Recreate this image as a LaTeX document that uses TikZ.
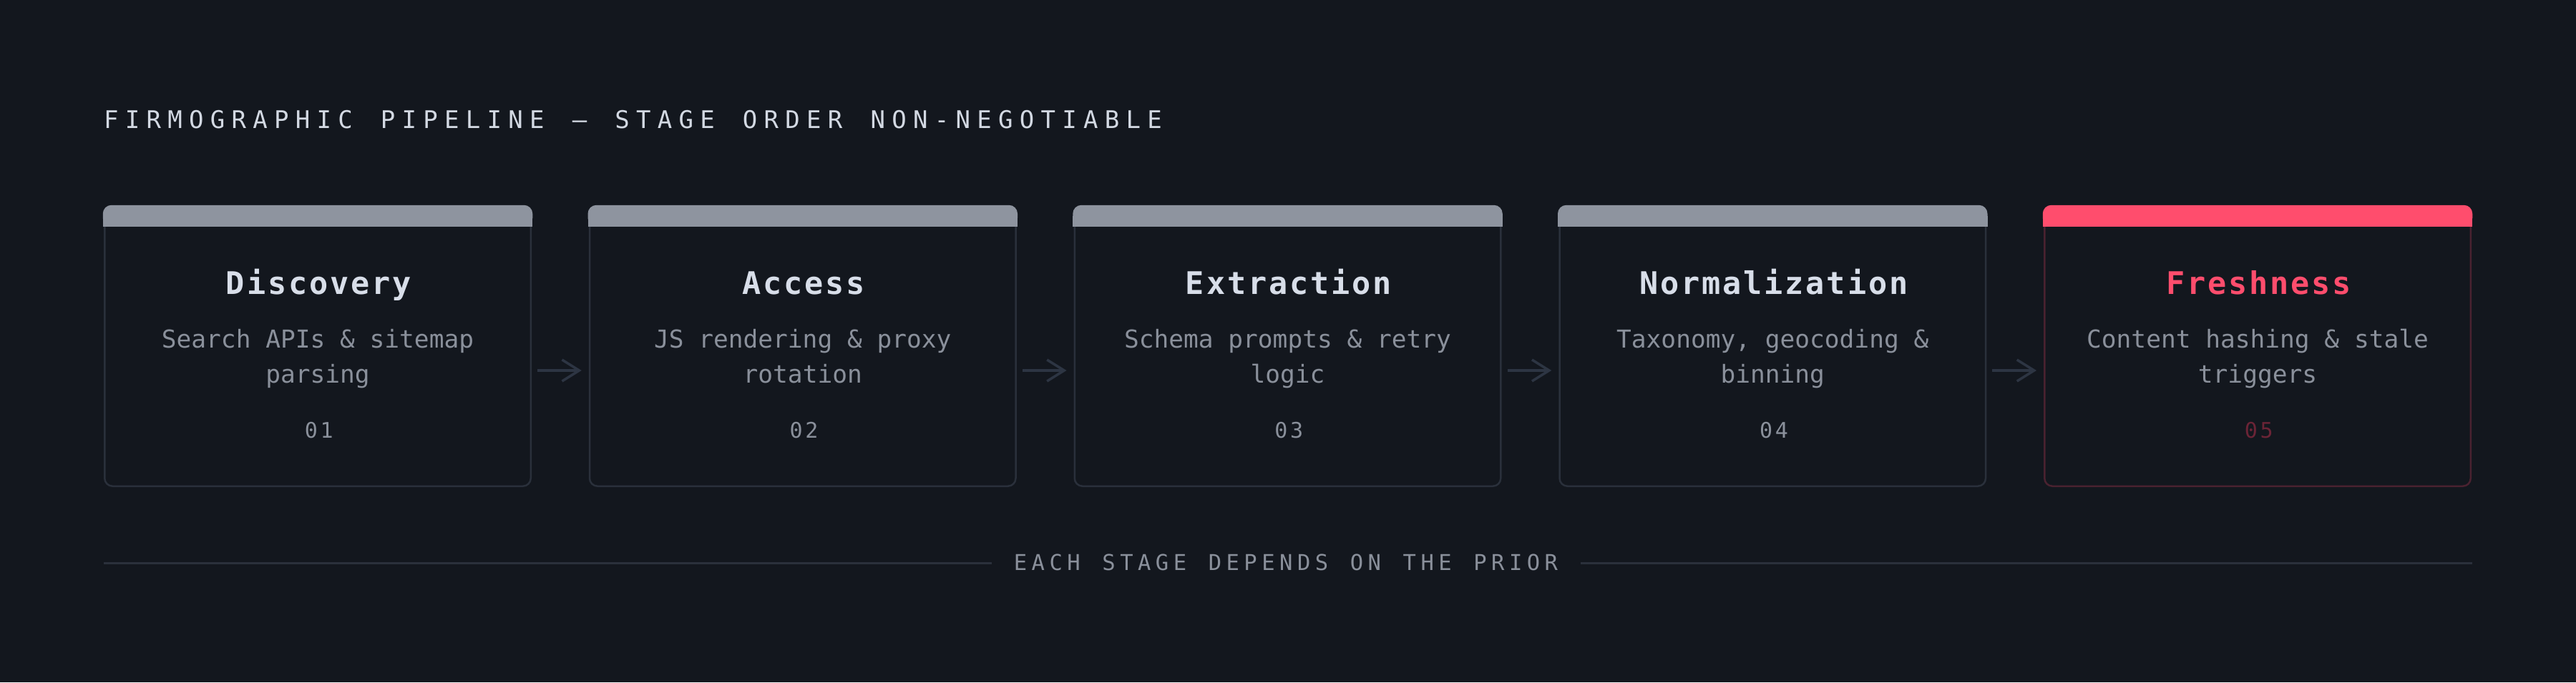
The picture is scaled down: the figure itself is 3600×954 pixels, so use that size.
\documentclass[tikz,border=0pt]{standalone}
\usepackage{fontspec}
\usetikzlibrary{arrows.meta,calc}
\newfontfamily\monoR{DejaVu Sans Mono}
\newfontfamily\monoT[LetterSpace=27.3,WordSpace={1.314,0,0}]{DejaVu Sans Mono}
\newfontfamily\monoF[LetterSpace=21.3,WordSpace={1.23,0,0}]{DejaVu Sans Mono}
\newfontfamily\monoN[LetterSpace=12]{DejaVu Sans Mono}
\newfontfamily\monoB[LetterSpace=6.7]{DejaVu Sans Mono}
\definecolor{bg}{HTML}{13171E}
\definecolor{ink}{HTML}{D8DEE9}
\definecolor{inkT}{HTML}{D3D9E3}
\definecolor{mute}{HTML}{8A909B}
\definecolor{edge}{HTML}{2A303B}
\definecolor{hdr}{HTML}{8E949F}
\definecolor{arrowc}{HTML}{2D3543}
\definecolor{hot}{HTML}{FF4D6D}
\definecolor{hotedge}{HTML}{4A2230}
\definecolor{hotnum}{HTML}{6B2436}
\tikzset{
  card/.style={draw=#1, line width=2.5pt, rounded corners=11pt, minimum width=595.5pt, minimum height=390.5pt, inner sep=0pt},
  stagetitle/.style={anchor=base, inner sep=0pt, font=\monoB\bfseries\fontsize{43.5}{52}\selectfont},
  desc/.style={anchor=base, align=center, inner sep=0pt, font=\monoR\fontsize{34.5}{49}\selectfont, text=mute},
  num/.style={anchor=base, inner sep=0pt, font=\monoN\fontsize{30}{36}\selectfont},
  flow/.style={draw=arrowc, line width=3.5pt, -{Straight Barb[length=24pt,width=30pt,line width=3.5pt]}},
  rule/.style={draw=edge, line width=2.5pt},
  head/.style={anchor=base west, inner sep=0pt, font=\monoT\fontsize{34}{40}\selectfont, text=inkT},
  foot/.style={anchor=base, inner sep=0pt, font=\monoF\fontsize{30.5}{36}\selectfont, text=mute}
}
\begin{document}
\begin{tikzpicture}[x=1pt,y=-1pt]
\fill[bg] (0,0) rectangle (3600,954);
\useasboundingbox (0,0) rectangle (3600,954);
\node[head] (hd) at (145,179.3) {FIRMOGRAPHIC PIPELINE — STAGE ORDER NON-NEGOTIABLE};
\foreach \i/\cx/\ttl/\la/\lb/\ec/\hc/\tc/\nc in {
  1/444/Discovery/{Search APIs \& sitemap}/parsing/edge/hdr/ink/mute,
  2/1121.75/Access/{JS rendering \& proxy}/rotation/edge/hdr/ink/mute,
  3/1799.5/Extraction/{Schema prompts \& retry}/logic/edge/hdr/ink/mute,
  4/2477.25/Normalization/{Taxonomy, geocoding \&}/binning/edge/hdr/ink/mute,
  5/3155/Freshness/{Content hashing \& stale}/triggers/hotedge/hot/hot/hotnum}{
  \node[card=\ec] (c\i) at (\cx,484.5) {};
  \fill[\hc, rounded corners=12pt] ([xshift=-1.25pt,yshift=1.25pt]c\i.north west) rectangle ([xshift=1.25pt,yshift=-28.75pt]c\i.north east);
  \fill[\hc] ([xshift=-1.25pt,yshift=-14pt]c\i.north west) rectangle ([xshift=1.25pt,yshift=-28.75pt]c\i.north east);
  \node[stagetitle, text=\tc] (t\i) at ({\cx+1.5},411.7) {\ttl};
  \node[desc] (d\i) at (\cx,535) {\la\\\lb};
  \node[num, text=\nc] (n\i) at ({\cx+1.8},612) {0\i};
}
\foreach \a/\b in {1/2,2/3,3/4,4/5}
  \draw[flow] ([xshift=8pt,yshift=-33.5pt]c\a.east) -- ([xshift=-10pt,yshift=-33.5pt]c\b.west);
\node[foot] (ft) at (1797,797.3) {EACH STAGE DEPENDS ON THE PRIOR};
\coordinate (fl) at (145,787.5);
\coordinate (fr) at (3455,787.5);
\draw[rule] (fl) -- ($(fl -| ft.west)+(-31,0)$);
\draw[rule] (fr) -- ($(fr -| ft.east)+(32,0)$);
\end{tikzpicture}
\end{document}
